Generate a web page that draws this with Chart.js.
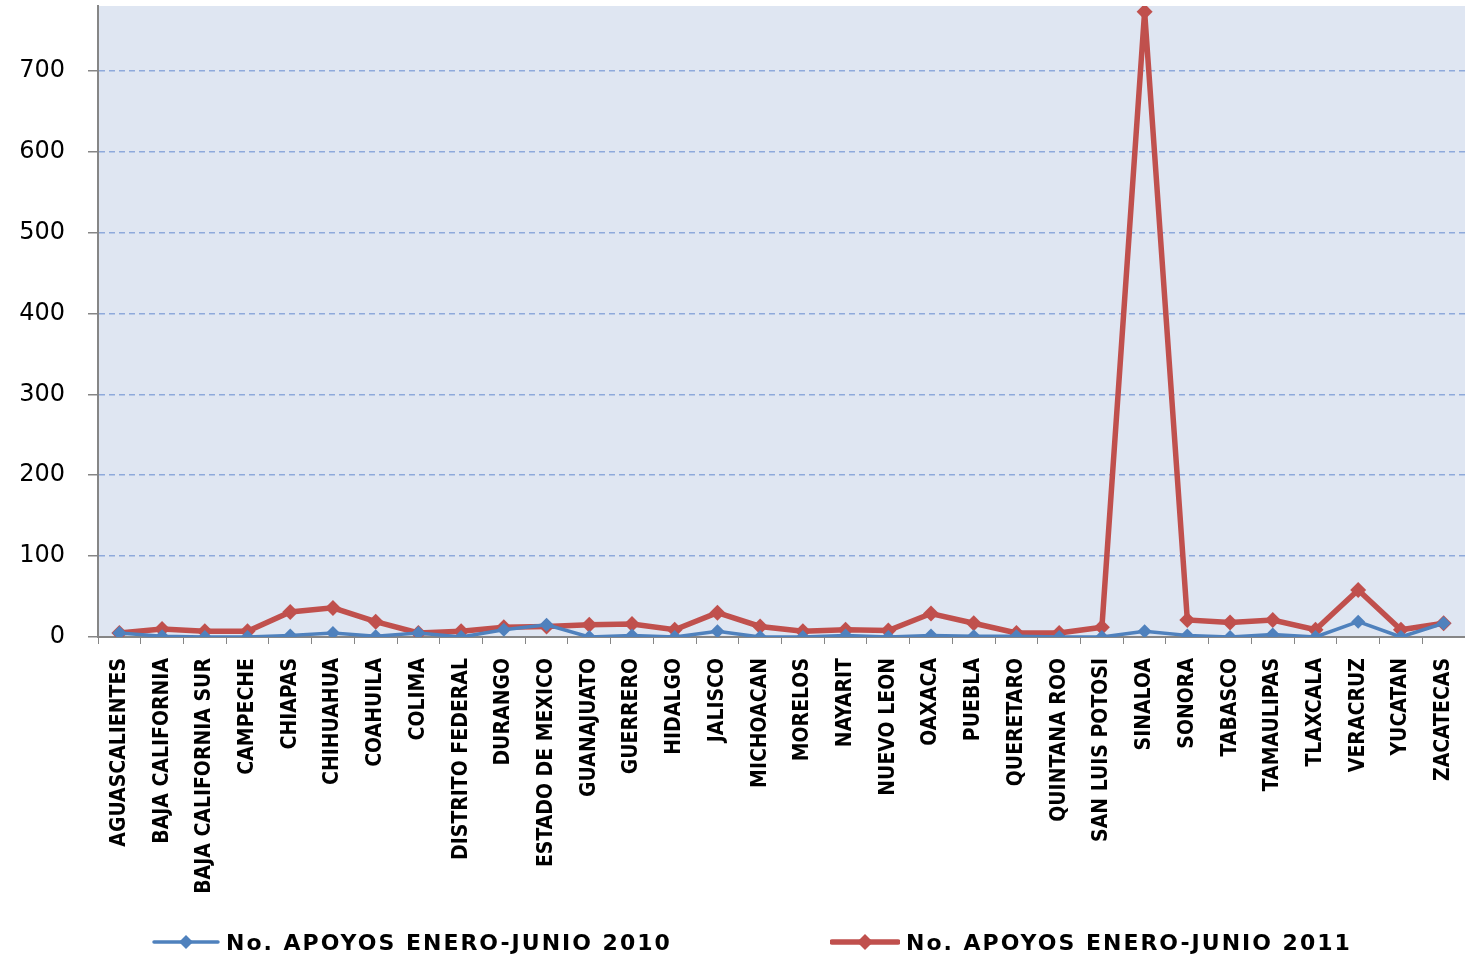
<!DOCTYPE html>
<html>
<head>
<meta charset="utf-8">
<script src="https://cdn.jsdelivr.net/npm/chart.js@4.4.0/dist/chart.umd.min.js"></script>
<style>
  html, body { margin: 0; padding: 0; background: #fff; }
  #wrap { position: relative; width: 1465px; height: 956px; }
  #legend { position: absolute; left: 0; top: 928px; width: 1465px; height: 28px;
    font: bold 22px "DejaVu Sans", Verdana, sans-serif; letter-spacing: 2px; color: #000; }
  .item { position: absolute; top: 0; display: flex; align-items: center; height: 28px; }
  .item canvas { margin-right: 6px; }
</style>
</head>
<body>
<div id="wrap">
  <canvas id="chart" width="1465" height="956"></canvas>
  <div id="legend">
    <div class="item" style="left:152px"><canvas id="lg1" width="68" height="20"></canvas>No. APOYOS ENERO-JUNIO 2010</div>
    <div class="item" style="left:830px"><canvas id="lg2" width="70" height="20"></canvas>No. APOYOS ENERO-JUNIO 2011</div>
  </div>
</div>
<script>
// Data
const states = ['AGUASCALIENTES', 'BAJA CALIFORNIA', 'BAJA CALIFORNIA SUR', 'CAMPECHE', 'CHIAPAS',
  'CHIHUAHUA', 'COAHUILA', 'COLIMA', 'DISTRITO FEDERAL', 'DURANGO', 'ESTADO DE MEXICO',
  'GUANAJUATO', 'GUERRERO', 'HIDALGO', 'JALISCO', 'MICHOACAN', 'MORELOS', 'NAYARIT',
  'NUEVO LEON', 'OAXACA', 'PUEBLA', 'QUERETARO', 'QUINTANA ROO', 'SAN LUIS POTOSI',
  'SINALOA', 'SONORA', 'TABASCO', 'TAMAULIPAS', 'TLAXCALA', 'VERACRUZ', 'YUCATAN', 'ZACATECAS'];
const apoyos2010 = [5, 1, 0, 0, 2, 5, 1, 5, 0, 9, 15, 0, 2, 0, 7, 0, 0, 2, 0, 2,
  1, 1, 0, 0, 7, 2, 0, 3, 0, 19, 0, 17];
const apoyos2011 = [5, 10, 7, 7, 31, 36, 19, 5, 7, 12, 13, 15, 16, 9, 30, 13, 7, 9, 8, 29,
  17, 5, 5, 12, 773, 21, 18, 21, 9, 58, 9, 17];
const yTicks = [0, 100, 200, 300, 400, 500, 600, 700];

const blue = '#4F81BD';
const red = '#C0504D';

// Plot area background
const plotBg = {
  id: 'plotBg',
  beforeDraw(chart) {
    const a = chart.chartArea;
    const c = chart.ctx;
    c.save();
    c.fillStyle = '#DFE6F2';
    c.fillRect(a.left, a.top, a.right - a.left, a.bottom - a.top);
    c.restore();
  }
};

const ctx = document.getElementById('chart').getContext('2d');
new Chart(ctx, {
  type: 'line',
  data: {
    labels: states,
    datasets: [{
      label: 'No. APOYOS ENERO-JUNIO 2010',
      data: apoyos2010,
      borderColor: blue,
      backgroundColor: blue,
      borderWidth: 3.5,
      pointStyle: 'rectRot',
      pointRadius: 7,
      pointBorderWidth: 0,
      tension: 0
    }, {
      label: 'No. APOYOS ENERO-JUNIO 2011',
      data: apoyos2011,
      borderColor: red,
      backgroundColor: red,
      borderWidth: 5.5,
      pointStyle: 'rectRot',
      pointRadius: 8,
      pointBorderWidth: 0,
      tension: 0
    }]
  },
  options: {
    responsive: false,
    animation: false,
    layout: { autoPadding: false, padding: { top: 6, right: 0, left: 0, bottom: 0 } },
    plugins: {
      legend: { display: false },
      tooltip: { enabled: false }
    },
    scales: {
      x: {
        offset: true,
        grid: {
          offset: true,
          drawOnChartArea: false,
          drawTicks: true,
          tickLength: 7,
          tickColor: '#868686'
        },
        border: { color: '#868686', width: 2 },
        ticks: {
          autoSkip: false,
          maxRotation: 90,
          minRotation: 90,
          padding: 14,
          color: '#000',
          font: { family: '"Liberation Sans Narrow", "DejaVu Sans Condensed", sans-serif', size: 21, weight: 'bold' }
        },
        afterFit(scale) {
          scale.height = 319;
          scale.paddingLeft = 0;
          scale.paddingRight = 0;
        }
      },
      y: {
        min: 0,
        max: 780,
        afterBuildTicks(scale) {
          scale.ticks = yTicks.map(v => ({ value: v }));
        },
        grid: {
          color: ctx => ctx.tick && ctx.tick.value === 0 ? 'rgba(0,0,0,0)' : '#8EA9DB',
          lineWidth: 1.5,
          drawTicks: true,
          tickLength: 10,
          tickColor: '#868686',
          tickBorderDash: []
        },
        border: { color: '#868686', width: 2, dash: [6, 4] },
        ticks: {
          padding: 23,
          color: '#000',
          font: { family: '"DejaVu Sans", Verdana, sans-serif', size: 24 }
        },
        afterFit(scale) {
          scale.width = 98;
          scale.paddingTop = 0;
          scale.paddingBottom = 0;
        }
      }
    }
  },
  plugins: [plotBg]
});

// Legend swatches
function swatch(id, color, lw, r) {
  const c = document.getElementById(id).getContext('2d');
  const w = c.canvas.width, h = c.canvas.height;
  c.strokeStyle = color;
  c.lineWidth = lw;
  c.lineCap = 'round';
  c.beginPath();
  c.moveTo(2, h / 2);
  c.lineTo(w - 2, h / 2);
  c.stroke();
  c.fillStyle = color;
  c.beginPath();
  c.moveTo(w / 2, h / 2 - r);
  c.lineTo(w / 2 + r, h / 2);
  c.lineTo(w / 2, h / 2 + r);
  c.lineTo(w / 2 - r, h / 2);
  c.closePath();
  c.fill();
}
swatch('lg1', blue, 3.5, 7);
swatch('lg2', red, 5.5, 8);
</script>
</body>
</html>
